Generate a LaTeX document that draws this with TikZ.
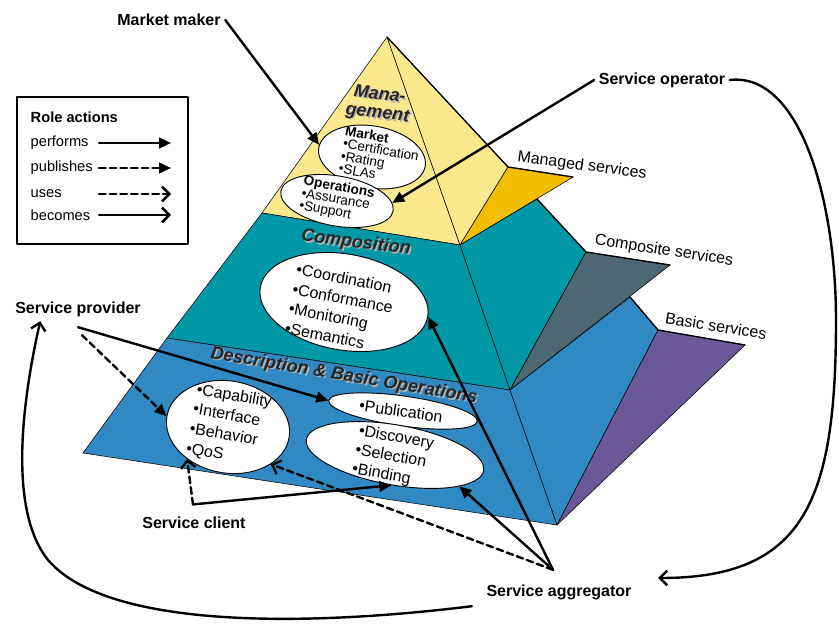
\documentclass[tikz,border=0pt]{standalone}
\usepackage{fontspec}
\setmainfont{Liberation Sans}
\usetikzlibrary{calc,arrows.meta,shapes.geometric}
\definecolor{mgmtyellow}{HTML}{FCE98E}
\definecolor{compteal}{HTML}{0098A6}
\definecolor{descblue}{HTML}{3089C3}
\definecolor{managedgold}{HTML}{F4BE00}
\definecolor{compslate}{HTML}{4D6873}
\definecolor{basicpurple}{HTML}{6B5897}
\tikzset{
    role/.style={font=\fontsize{12}{14}\selectfont\bfseries},
    legend text/.style={font=\fontsize{11}{13}\selectfont},
    shelf/.style={font=\fontsize{12}{14}\selectfont},
    layer/.style={font=\fontsize{13.5}{14}\selectfont\bfseries\itshape, align=center},
    items/.style={font=\fontsize{12}{15}\selectfont, align=left, inner sep=0pt},
    small items/.style={font=\fontsize{10.2}{9.4}\selectfont, align=left, inner sep=0pt},
    oval/.style={ellipse, draw, line width=0.7pt, fill=white, inner sep=0pt},
    face/.style={draw, line width=0.4pt},
    rim/.style={line width=1pt},
    performs/.style={line width=1.8pt, -{Triangle[length=9pt,width=8pt]}},
    publishes/.style={performs, dash pattern=on 5pt off 3pt},
    uses/.style={line width=1.8pt, dash pattern=on 5pt off 3pt, -{Straight Barb[length=5.5pt,width=11pt]}},
    becomes/.style={line width=1.8pt, -{Straight Barb[length=5.5pt,width=11pt]}}
}

\begin{document}
\begin{tikzpicture}[x=0.75pt, y=-0.75pt, line cap=round, line join=round]
\useasboundingbox (0,0) rectangle (839,624);

% pyramid corners
\coordinate (apex) at (387,37);
\coordinate (ml) at (262,213);
\coordinate (mr) at (460,245);
\coordinate (cl) at (167,338);
\coordinate (cr) at (510,390);
\coordinate (bl) at (83,453);
\coordinate (br) at (557,525);

% management layer
\filldraw[face, fill=mgmtyellow] (apex) -- (ml) -- (mr) -- cycle;
\filldraw[face, fill=mgmtyellow] (apex) -- (mr) -- (508,167) -- cycle;
\filldraw[face, fill=managedgold] (508,167) -- (573,177) -- (mr) -- cycle;
% composition layer
\filldraw[face, fill=compteal] (ml) -- (cl) -- (cr) -- (mr) -- cycle;
\filldraw[face, fill=compteal] (mr) -- (537,199) -- (586,252) -- (cr) -- cycle;
\filldraw[face, fill=compslate] (586,252) -- (670,265) -- (cr) -- cycle;
% description layer
\filldraw[face, fill=descblue] (cl) -- (bl) -- (br) -- (cr) -- cycle;
\filldraw[face, fill=descblue] (cr) -- (630,297) -- (658,330) -- (br) -- cycle;
\filldraw[face, fill=basicpurple] (658,330) -- (745,345) -- (br) -- cycle;

\draw[rim] (apex) -- (508,167) -- (573,177);
\draw[rim] (537,199) -- (586,252) -- (670,265);
\draw[rim] (630,297) -- (658,330) -- (745,345);

% layer titles (with a grey shadow)
\node[layer, text=black!30, rotate=-7] (mgmtsh) at (380,106) {Mana-\\gement};
\node[layer, text=black!85, rotate=-7] (mgmt) at (378.5,104.5) {Mana-\\gement};
\node[layer, text=black!30, rotate=-7] (compsh) at (357.5,244.5) {Composition};
\node[layer, text=black!85, rotate=-7] (comp) at (356,243) {Composition};
\node[layer, text=black!30, rotate=-9.5] (descsh) at (345.5,377.5) {Description \& Basic Operations};
\node[layer, text=black!85, rotate=-9.5] (desc) at (344,376) {Description \& Basic Operations};

% shelves
\node[shelf, rotate=-7.5] (managed) at (582,166) {Managed services};
\node[shelf, rotate=-8.5] (composite) at (664,251) {Composite services};
\node[shelf, rotate=-9] (basic) at (716,326) {Basic services};

% ovals
\node[oval, rotate=-10, minimum width=81pt, minimum height=46.5pt] (mkt) at (372,157) {};
\node[small items, rotate=-10] (mkttext) at (380,156) {\textbf{Market}\\•Certification\\•Rating\\•SLAs};
\node[oval, rotate=-10, minimum width=85.5pt, minimum height=37.5pt] (ops) at (337,201) {};
\node[small items, rotate=-10] (opstext) at (337,200) {\textbf{Operations}\\•Assurance\\•Support};
\node[oval, rotate=-10, minimum width=127.5pt, minimum height=72pt] (coord) at (344,302) {};
\node[items, rotate=-11] (coordtext) at (341,308) {•Coordination\\•Conformance\\•Monitoring\\•Semantics};
\node[oval, rotate=-10, minimum width=93pt, minimum height=69pt] (cap) at (228,427) {};
\node[items, rotate=-10] (captext) at (229,426) {•Capability\\•Interface\\•Behavior\\•QoS};
\node[oval, rotate=-8, minimum width=112.5pt, minimum height=22.5pt] (pub) at (403,411) {};
\node[items, rotate=-8] (pubtext) at (401,411) {•Publication};
\node[oval, rotate=-10, minimum width=135pt, minimum height=45pt] (disc) at (395,455) {};
\node[items, rotate=-10, font=\fontsize{12}{14.5}\selectfont] (disctext) at (393,457) {•Discovery\\•Selection\\•Binding};

% roles
\node[role] (mmaker) at (169,20) {Market maker};
\node[role] (sop) at (662,80) {Service operator};
\node[role] (prov) at (78,309) {Service provider};
\node[role] (client) at (194,523) {Service client};
\node[role] (aggr) at (559,592) {Service aggregator};

\coordinate (clcorner) at ($(client.north)+(-1,-8)$);
\coordinate (aggtop) at ($(aggr.north)+(-6,-10)$);

\draw[performs] (mmaker.east) -- (mkt.177);
\draw[performs] (sop.west) -- (ops.8);
\draw[performs] ($(prov.south)+(0,6)$) -- (pub.180);
\draw[publishes] ($(prov.south)+(4,14)$) -- (cap.180);
\draw[uses] (clcorner) -- (cap.228);
\draw[performs] (clcorner) -- (disc.273);
\draw[performs] (aggtop) -- (coord.0);
\draw[performs] (aggtop) -- (disc.-16);
\draw[uses] (aggtop) -- (cap.-31);
\draw[becomes] (sop.east) .. controls (800,72) and (836,200) .. (836,320)
    .. controls (836,500) and (805,578) .. ($(aggr.east)+(22,-14)$);
\draw[becomes] ($(aggr.south west)+(-10,2)$) .. controls (320,625) and (110,632) .. (48,560)
    .. controls (12,515) and (18,420) .. ($(prov.south west)!0.22!(prov.south east)$);

% legend
\draw[line width=0.8pt] (17,97) rectangle (188,244);
\node[role, anchor=west, font=\fontsize{11}{13}\selectfont\bfseries] (legtitle) at (26,117) {Role actions};
\foreach \y/\act in {143/performs,168/publishes,194/uses,215/becomes} {
  \node[legend text, anchor=west] (leg-\act) at (26,\y) {\act};
  \coordinate (from-\act) at (99,\y);
  \coordinate (to-\act) at (171,\y);
  \draw[\act] (from-\act) -- (to-\act);
}

\end{tikzpicture}
\end{document}
